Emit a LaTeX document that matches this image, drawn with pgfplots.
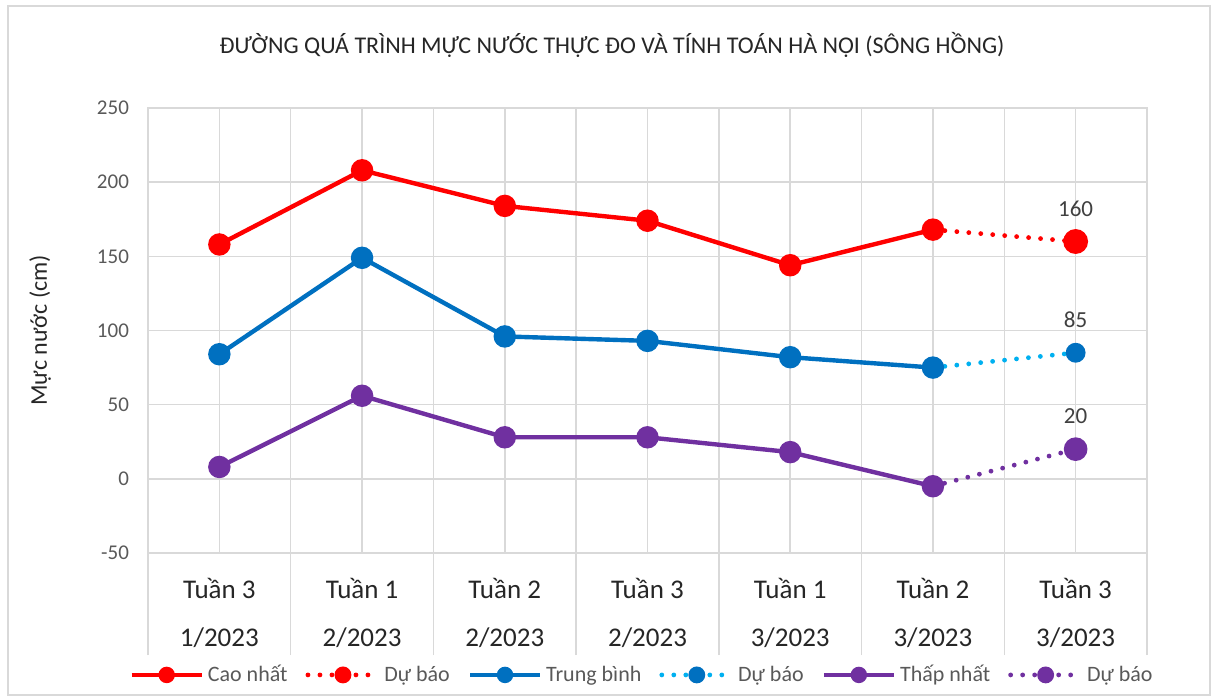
\documentclass[border=0pt]{standalone}
\usepackage{fontspec}
\setmainfont{Carlito}
\usepackage{pgfplots}
\pgfplotsset{compat=1.18}
\definecolor{cred}{HTML}{FF0000}
\definecolor{cblue}{HTML}{0070C0}
\definecolor{clblue}{HTML}{00B0F0}
\definecolor{cpurple}{HTML}{7030A0}
\definecolor{gridgray}{HTML}{D9D9D9}
\definecolor{ticktext}{HTML}{595959}
\definecolor{darktext}{HTML}{262626}
\definecolor{labtext}{HTML}{404040}
\begin{document}
\begin{tikzpicture}
\path[use as bounding box] (-74pt,-73pt) rectangle (535pt,276.5pt);
\draw[gridgray, line width=0.75pt] (-70pt,-71pt) rectangle (531pt,273.5pt);
\begin{axis}[
  at={(0,0)}, anchor=south west,
  width=499.5pt, height=222.5pt, scale only axis,
  xmin=-0.5, xmax=6.5, ymin=-50, ymax=250,
  ytick={-50,0,...,250},
  /pgf/number format/assume math mode=true,
  xtick={-0.5,0.5,...,6.5}, xticklabels={},
  extra x ticks={0,1,2,3,4,5,6},
  extra x tick labels={Tuần 3\\[8pt]1/2023,Tuần 1\\[8pt]2/2023,Tuần 2\\[8pt]2/2023,Tuần 3\\[8pt]2/2023,Tuần 1\\[8pt]3/2023,Tuần 2\\[8pt]3/2023,Tuần 3\\[8pt]3/2023},
  extra x tick style={major tick length=0pt, grid=major,
     tick label style={align=center, font=\fontsize{13.5}{16}\selectfont, color=darktext, yshift=-9pt}},
  grid=major,
  major grid style={color=gridgray, line width=0.75pt},
  axis line style={gridgray, line width=0.75pt},
  xtick pos=left,
  tick align=outside,
  major tick length=51pt,
  x tick style={gridgray, line width=0.75pt},
  y tick style={draw=none},
  yticklabel style={font=\fontsize{10.5}{12}\selectfont, color=ticktext, xshift=45pt},
  ylabel={Mực nước (cm)},
  ylabel style={font=\fontsize{12}{14}\selectfont, color=darktext, at={(axis description cs:-0.108,0.5)}, anchor=center},
  clip=false,
  legend image code/.code={\draw[mark repeat=2,mark phase=2,#1] plot coordinates {(0pt,0pt) (17.5pt,0pt) (35pt,0pt)};},
  legend columns=6,
  legend style={draw=none, fill=none, font=\fontsize{11}{13}\selectfont, text=ticktext,
     at={(axis description cs:0.4955,-0.274)}, anchor=center,
     /tikz/every even column/.append style={column sep=7pt}},
  legend cell align=left,
  sol/.style={line width=2.2pt, mark=*, mark size=4.5pt},
  fc/.style={line width=2.4pt, dash pattern=on 0pt off 6pt, line cap=round, mark=*, mark size=4.5pt, mark options={solid}},
  nodes near coords style={font=\fontsize{11.5}{13}\selectfont, color=labtext, anchor=center, yshift=16.5pt},
]
\addlegendimage{sol, cred, mark size=3pt}
\addlegendentry{Cao nhất}
\addlegendimage{fc, cred, mark size=3pt}
\addlegendentry{Dự báo}
\addlegendimage{sol, cblue, mark size=3pt}
\addlegendentry{Trung bình}
\addlegendimage{fc, clblue, mark size=3pt, mark options={solid, fill=cblue, draw=cblue}}
\addlegendentry{Dự báo}
\addlegendimage{sol, cpurple, mark size=3pt}
\addlegendentry{Thấp nhất}
\addlegendimage{fc, cpurple, mark size=3pt}
\addlegendentry{Dự báo}
% forecast lines first (under the markers)
\addplot[fc, cred, mark size=5pt, mark indices={2}, point meta=explicit symbolic, nodes near coords, forget plot]
  coordinates {(5,168)[] (6,160)[160]};
\addplot[fc, clblue, mark size=3.75pt, mark indices={2}, mark options={solid, fill=cblue, draw=cblue}, point meta=explicit symbolic, nodes near coords, forget plot]
  coordinates {(5,75)[] (6,85)[85]};
\addplot[fc, cpurple, mark size=4.7pt, mark indices={2}, point meta=explicit symbolic, nodes near coords, forget plot]
  coordinates {(5,-5)[] (6,20)[20]};
% main series
\addplot[sol, cred, forget plot] coordinates {(0,158) (1,208) (2,184) (3,174) (4,144) (5,168)};
\addplot[sol, cblue, forget plot] coordinates {(0,84) (1,149) (2,96) (3,93) (4,82) (5,75)};
\addplot[sol, cpurple, forget plot] coordinates {(0,8) (1,56) (2,28) (3,28) (4,18) (5,-5)};
\end{axis}
\node[font=\fontsize{12}{15}\selectfont, color=darktext] at (232pt,254pt) {ĐƯỜNG QUÁ TRÌNH MỰC NƯỚC THỰC ĐO VÀ TÍNH TOÁN HÀ NỘI (SÔNG HỒNG)};
\end{tikzpicture}
\end{document}
